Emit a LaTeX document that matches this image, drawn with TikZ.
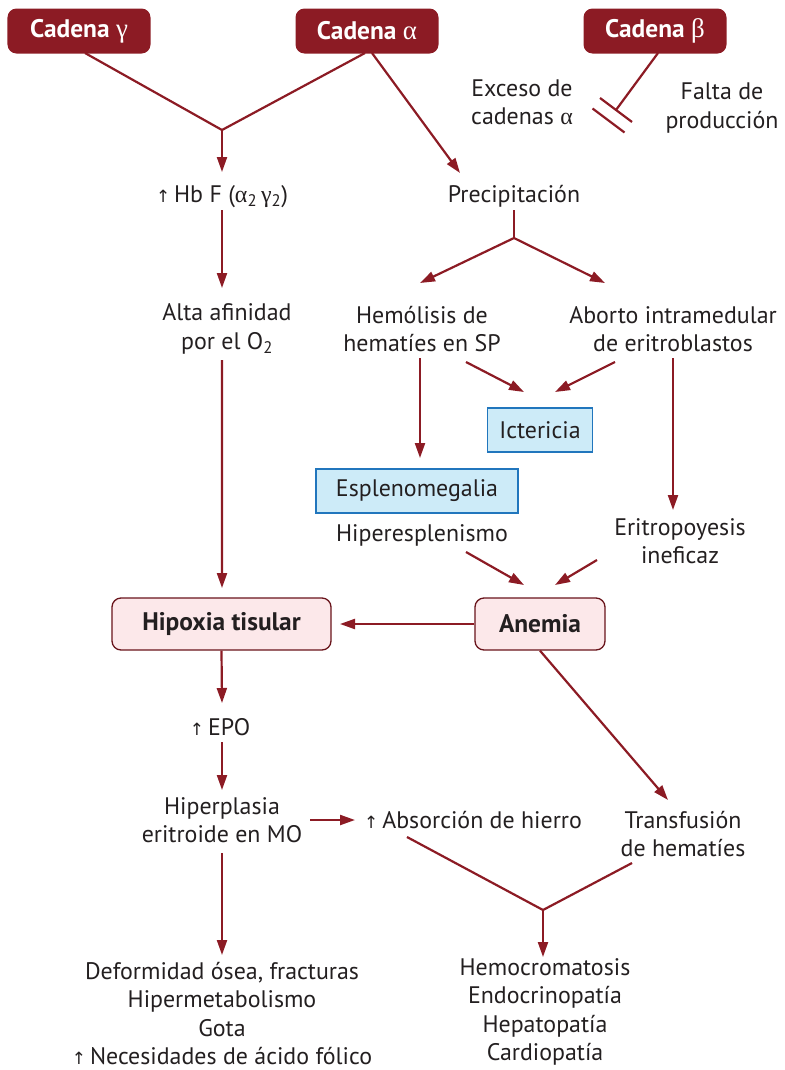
\documentclass[tikz,border=0pt]{standalone}
\usepackage{fontspec}
\setmainfont{PT Sans}
\newfontfamily\grk{Liberation Serif}
\newfontfamily\sym{DejaVu Sans}
\usetikzlibrary{arrows.meta,calc}
\definecolor{dred}{HTML}{8C1B24}
\definecolor{txt}{HTML}{231F20}
\definecolor{pinkf}{HTML}{FCE8EA}
\definecolor{bluef}{HTML}{CDEBF8}
\definecolor{blueb}{HTML}{2176BD}
\newcommand{\myup}{{\sym\fontsize{17}{17}\selectfont ↑}\,}
\newcommand{\gk}[1]{{\grk\mdseries\fontsize{27}{28}\selectfont #1}}
\begin{document}
\begin{tikzpicture}[x=1bp,y=-1bp,
  every node/.style={font=\fontsize{24}{28.5}\selectfont, text=txt},
  lbl/.style={align=center, inner sep=0pt},
  chain/.style={fill=dred, rounded corners=9bp, text=white, font=\fontsize{25.5}{28}\selectfont\bfseries, minimum width=143bp, minimum height=45bp, inner sep=0pt},
  pinkbox/.style={fill=pinkf, draw=dred!75!black, line width=1.3bp, rounded corners=9bp, font=\fontsize{25.5}{28}\selectfont\bfseries, minimum height=52bp, inner sep=0pt},
  bluebox/.style={fill=bluef, draw=blueb, line width=1.8bp, minimum height=44bp, inner sep=0pt},
  ln/.style={draw=dred, line width=2.2bp},
  arr/.style={ln, -{Triangle[length=15bp,width=10bp]}}
]
\useasboundingbox (0,0) rectangle (785,1070);
\node[chain] (cg) at (79,31) {Cadena \gk{γ}};
\node[chain] (ca) at (367,31) {Cadena \gk{α}};
\node[chain] (cb) at (655,31) {Cadena \gk{β}};
\node[lbl] (exceso) at (522,102) {Exceso de\\cadenas {\grk α}};
\node[lbl] (falta) at (722,108) {Falta de\\producción};
\coordinate (j1) at (222,130);
\coordinate (tb) at (616,110);
\node[lbl] (hbf) at (222,197) {\myup Hb F ({\grk α}\textsubscript{2}\,{\grk γ}\textsubscript{2})};
\node[lbl] (precip) at (514,196) {Precipitación};
\coordinate (j2) at (514,238);
\node[lbl] (alta) at (227,329) {Alta afinidad\\por el O\textsubscript{2}};
\node[lbl] (hemol) at (422,329) {Hemólisis de\\hematíes en SP};
\node[lbl] (aborto) at (673,329) {Aborto intramedular\\de eritroblastos};
\node[bluebox, minimum width=105bp] (ict) at (540,430) {Ictericia};
\node[bluebox, minimum width=202bp] (esplen) at (417,491) {Esplenomegalia};
\node[lbl] (hipersp) at (422,535) {Hiperesplenismo};
\node[lbl] (eritro) at (680,541) {Eritropoyesis\\ineficaz};
\node[pinkbox, minimum width=219bp] (hip) at (221.5,624) {Hipoxia tisular};
\node[pinkbox, minimum width=130bp] (anemia) at (540,624) {Anemia};
\node[lbl] (epo) at (220,727) {\myup EPO};
\node[lbl] (hiper) at (222,820) {Hiperplasia\\eritroide en MO};
\node[lbl] (absor) at (473,820) {\myup Absorción de hierro};
\node[lbl] (transf) at (683,834) {Transfusión\\de hematíes};
\coordinate (j3) at (543,910);
\node[lbl] (left) at (222,1013.5) {Deformidad ósea, fracturas\\Hipermetabolismo\\Gota\\\myup Necesidades de ácido fólico};
\node[lbl] (right) at (545,1012) {Hemocromatosis\\Endocrinopatía\\Hepatopatía\\Cardiopatía};
% connectors
\draw[ln] ($(cg.center)+(6,22)$) -- (j1) -- ($(ca.center)+(-2,22)$);
\draw[arr] (j1) -- ($(hbf.center)+(0,-25)$);
\draw[arr] ($(ca.center)+(5,22)$) -- ($(precip.center)+(-54,-23)$);
\draw[ln] ($(cb.center)+(3,22)$) -- (tb);
\draw[ln] ($(tb)+(-16,-12)$) -- ($(tb)+(16,12)$);
\draw[ln] ($(tb)+(-23.5,-1.5)$) -- ($(tb)+(8.5,22.5)$);
\draw[ln] ($(precip.center)+(0,14)$) -- (j2);
\draw[arr] (j2) -- ($(hemol.center)+(-2,-46)$);
\draw[arr] (j2) -- ($(aborto.center)+(-68,-46)$);
\draw[arr] ($(hbf.center)+(0,13)$) -- ($(alta.center)+(-5,-41)$);
\draw[arr] ($(alta.center)+(-5,31)$) -- ($(hip.center)+(0.5,-36)$);
\draw[arr] ($(hemol.center)+(44,33)$) -- ($(ict.center)+(-16,-38)$);
\draw[arr] ($(aborto.center)+(-58,33)$) -- ($(ict.center)+(15,-38)$);
\draw[arr] ($(hemol.center)+(-2,29)$) -- ($(esplen.center)+(3,-33)$);
\draw[arr] ($(aborto.center)+(0,29)$) -- ($(eritro.center)+(-7,-31)$);
\draw[arr] ($(hipersp.center)+(44,17)$) -- ($(anemia.center)+(-16,-39)$);
\draw[arr] ($(eritro.center)+(-83,19)$) -- ($(anemia.center)+(15,-39)$);
\draw[arr] (anemia.west) -- ($(hip.center)+(118.5,0)$);
\draw[arr] (anemia.south) -- ($(transf.center)+(-15,-34)$);
\draw[arr] (hip.south) -- ($(epo.center)+(2,-24)$);
\draw[arr] ($(epo.center)+(2,15)$) -- ($(hiper.center)+(0,-30)$);
\draw[arr] ($(hiper.center)+(88,0)$) -- ($(absor.center)+(-118,0)$);
\draw[arr] ($(hiper.center)+(0,33)$) -- ($(left.center)+(0,-58.5)$);
\draw[ln] ($(absor.center)+(-66,17)$) -- (j3) -- ($(transf.center)+(-51,29)$);
\draw[arr] (j3) -- ($(right.center)+(-2,-55)$);
\end{tikzpicture}
\end{document}
